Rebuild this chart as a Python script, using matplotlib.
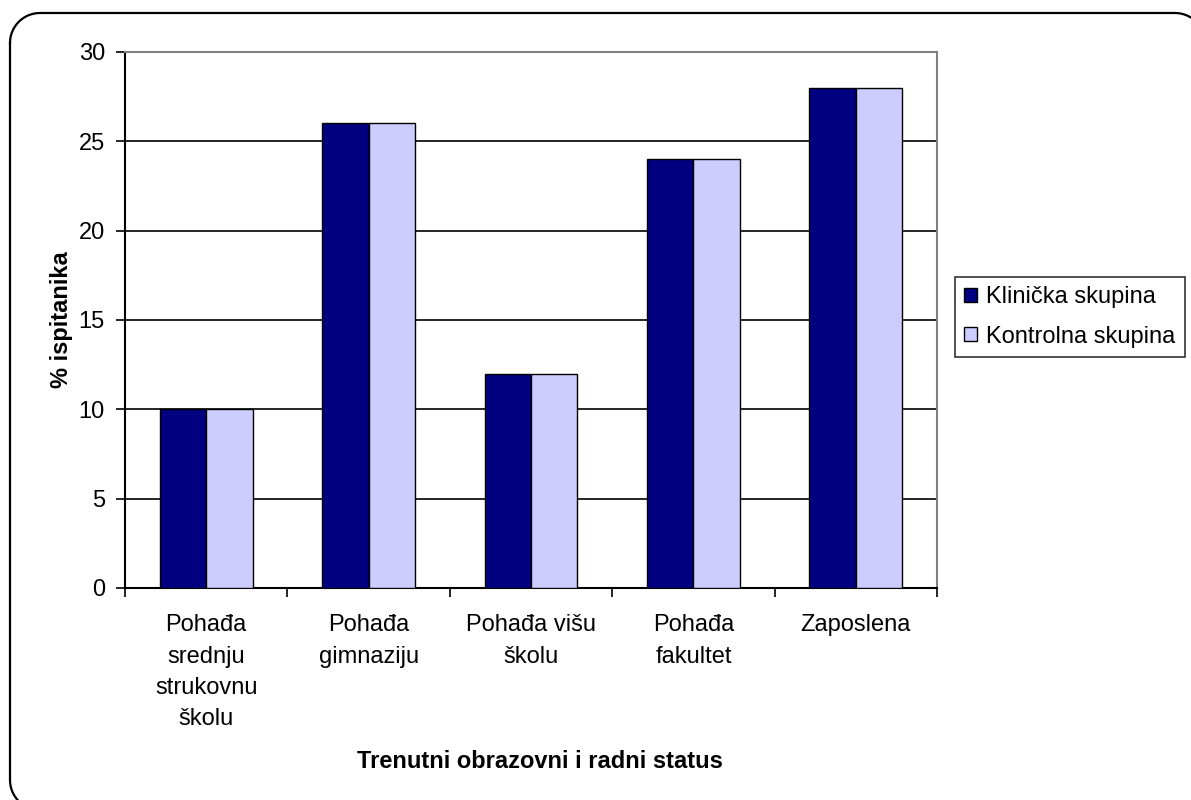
import numpy as np
import matplotlib.pyplot as plt

plt.rcParams['font.family'] = ['Liberation Sans', 'DejaVu Sans']

categories = ['Pohađa\nsrednju\nstrukovnu\nškolu', 'Pohađa\ngimnaziju', 'Pohađa višu\nškolu',
              'Pohađa\nfakultet', 'Zaposlena']
klinicka = [10, 26, 12, 24, 28]
kontrolna = [10, 26, 12, 24, 28]
series_names = ['Klinička skupina', 'Kontrolna skupina']

FS = 17

fig = plt.figure(figsize=(11.91, 8), dpi=100)

# rounded outer frame, drawn in pixel units on an overlay axes (cut off right and bottom)
bg = fig.add_axes([0, 0, 1, 1], zorder=-1)
bg.set_xlim(0, 1191)
bg.set_ylim(800, 0)
bg.axis('off')
left, top, right, bottom, r = 10, 13, 1205, 810, 30
t = np.linspace(0, np.pi / 2, 20)
fx = np.concatenate([left + r - r * np.cos(t), right - r + r * np.sin(t),
                     right - r + r * np.cos(t), left + r - r * np.sin(t), [left]])
fy = np.concatenate([top + r - r * np.sin(t), top + r - r * np.cos(t),
                     bottom - r + r * np.sin(t), bottom - r + r * np.cos(t), [top + r]])
bg.plot(fx, fy, color='black', linewidth=1.6, clip_on=False)

ax = fig.add_axes([125 / 1191, 1 - 588 / 800, (937 - 125) / 1191, (588 - 52) / 800])

x = np.arange(len(categories))
w = 1 / 3.5
ax.bar(x - w / 2, klinicka, w, color='#000080', edgecolor='black', linewidth=1, label=series_names[0], zorder=3)
ax.bar(x + w / 2, kontrolna, w, color='#CCCCFF', edgecolor='black', linewidth=1, label=series_names[1], zorder=3)

ax.set_xlim(-0.5, len(categories) - 0.5)
ax.set_ylim(0, 30)
ax.set_yticks(range(0, 31, 5))
ax.yaxis.grid(True, color='black', linewidth=1.2, zorder=0)
ax.set_axisbelow(True)

ax.set_xticks(x)
ax.set_xticklabels(categories, fontsize=FS, linespacing=1.55)
ax.set_xticks(np.arange(-0.5, len(categories), 1), minor=True)
ax.tick_params(axis='x', which='major', length=0, pad=19)
ax.tick_params(axis='x', which='minor', length=6.5, width=1.2, direction='out')
ax.tick_params(axis='y', length=6.5, width=1.2, labelsize=FS, pad=8)

for s in ['top', 'right']:
    ax.spines[s].set_color('#808080')
    ax.spines[s].set_linewidth(1.5)
for s in ['left', 'bottom']:
    ax.spines[s].set_linewidth(1.5)

fig.text(62 / 1191, 1 - 320 / 800, '% ispitanika', fontsize=FS, fontweight='bold',
         rotation=90, ha='center', va='center')
fig.text(540 / 1191, 1 - 762 / 800, 'Trenutni obrazovni i radni status', fontsize=FS,
         fontweight='bold', ha='center', va='center')

leg = fig.legend(loc='center left', bbox_to_anchor=(955 / 1191, 1 - 317 / 800), fontsize=FS,
                 frameon=True, fancybox=False, edgecolor='black', handlelength=0.55, handleheight=0.55,
                 handletextpad=0.37, borderpad=0.4, labelspacing=0.72, borderaxespad=0)
leg.get_frame().set_linewidth(1.2)

fig.savefig('out.png', dpi=100)
